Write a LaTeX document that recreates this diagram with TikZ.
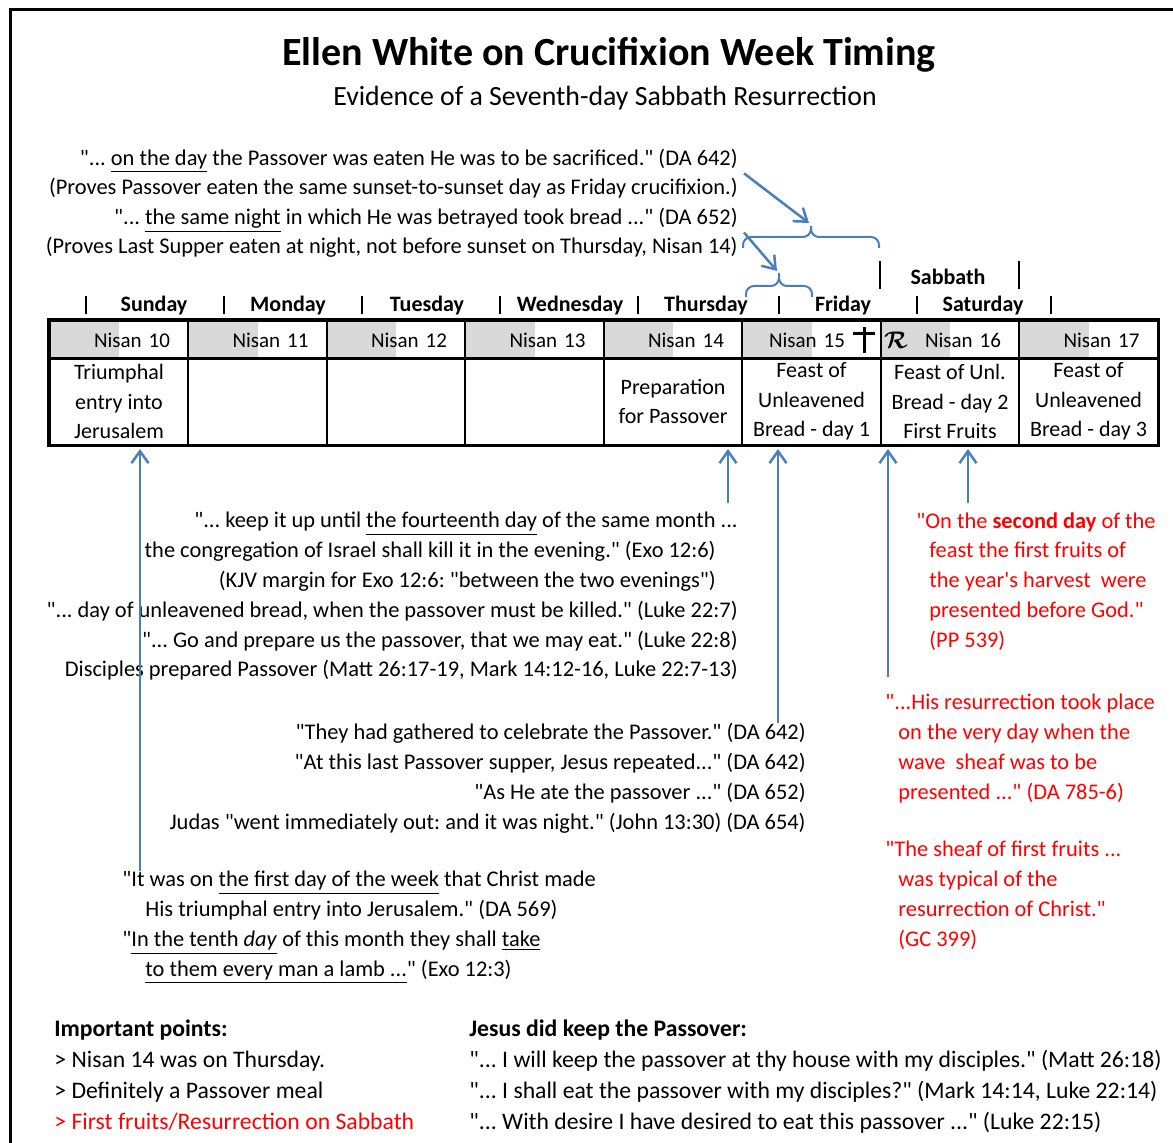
\documentclass[tikz,border=0pt]{standalone}
\usepackage{bm}
\usepackage{fontspec}
\setmainfont{Carlito}[Ligatures=TeXOff]
\frenchspacing
\usetikzlibrary{arrows.meta}

\definecolor{linkblue}{HTML}{4A7EBB}
\definecolor{ewred}{HTML}{FF0000}
\definecolor{evening}{HTML}{D9D9D9}

\tikzset{
  txt/.style={inner sep=0pt,font=\fontsize{11.2}{14.9}\selectfont},
  dayname/.style={txt,font=\fontsize{11}{15}\selectfont\bfseries},
  redtxt/.style={txt,text=ewred,align=left,anchor=north west},
  link/.style={draw=linkblue,line width=1.25pt,-{Straight Barb[length=6pt,width=8.5pt]}},
  bracket/.style={draw=linkblue,line width=1pt,rounded corners=4pt},
  bar/.style={line width=1pt},
  nisan/.style={draw,line width=1pt,minimum width=69.25pt,minimum height=19pt,inner sep=0pt,
    text width=51pt,align=right,font=\fontsize{10.5}{15}\selectfont,
    path picture={\fill[evening] (path picture bounding box.north west) rectangle (path picture bounding box.south);}},
  feast/.style={draw,line width=1pt,minimum width=69.25pt,minimum height=43.5pt,inner sep=0pt,
    align=center,font=\fontsize{11}{14.75}\selectfont}
}

\begin{document}
\begin{tikzpicture}[x=0.5pt,y=-0.5pt]
\useasboundingbox (0,0) rectangle (1173,1143);
\draw[line width=1.5pt] (10,1143) -- (10,10) -- (1173,10);

\node[font=\fontsize{20}{24}\selectfont\bfseries] (title) at (609,55) {Ellen White on Crucifixion Week Timing};
\node[font=\fontsize{13.9}{16}\selectfont] (subtitle) at (605,98) {Evidence of a Seventh-day Sabbath Resurrection};

\node[txt,anchor=east] (q1) at (738,161) {"... \underline{on the day} the Passover was eaten He was to be sacrificed." (DA 642)};
\node[txt,anchor=east] (q2) at (738,188) {(Proves Passover eaten the same sunset-to-sunset day as Friday crucifixion.)};
\node[txt,anchor=east] (q3) at (738,220) {"... \underline{the same night} in which He was betrayed took bread ..." (DA 652)};
\node[txt,anchor=east] (q4) at (738,247) {(Proves Last Supper eaten at night, not before sunset on Thursday, Nisan 14)};

\draw[bracket] (743,248) |- (811,237) -- (811,226) (811,226) -- (811,237) -| (879,248);
\draw[bracket] (746,297) |- (779,286) -- (779,273) (779,273) -- (779,286) -| (812,297);
\coordinate (tip1) at (809,223);
\coordinate (tip2) at (777,271);
\draw[link] ([xshift=3pt]q1.south east) -- (tip1);
\draw[link] ([xshift=3pt]q3.south east) -- (tip2);

\node[dayname] (sabbath) at (948,277) {Sabbath};
\draw[bar] (880,261) -- (880,289) (1019,261) -- (1019,289);
\path node[dayname] (sun) at (154,306) {Sunday}
      node[dayname] (mon) at (288,306) {Monday}
      node[dayname] (tue) at (427,306) {Tuesday}
      node[dayname] (wed) at (570,306) {Wednesday}
      node[dayname] (thu) at (706,306) {Thursday}
      node[dayname] (fri) at (843,306) {Friday}
      node[dayname] (sat) at (983,306) {Saturday};
\draw[bar] (86,296) -- (86,314) (224,296) -- (224,314) (362,296) -- (362,314) (500,296) -- (500,314)
  (638,296) -- (638,314) (779,296) -- (779,314) (917,296) -- (917,314) (1051,296) -- (1051,314);

\node[nisan] (h10) at (119,340) {Nisan 10};
\node[nisan] (h11) at (257.5,340) {Nisan 11};
\node[nisan] (h12) at (396,340) {Nisan 12};
\node[nisan] (h13) at (534.5,340) {Nisan 13};
\node[nisan] (h14) at (673,340) {Nisan 14};
\node[nisan] (h15) at (811.5,340) {Nisan 15\rule{8.75pt}{0pt}};
\node[nisan] (h16) at (950,340) {Nisan 16};
\node[nisan] (h17) at (1088.5,340) {Nisan 17};
\node[feast] (b10) at (119,401.5) {Triumphal\\entry into\\Jerusalem};
\node[feast] (b11) at (257.5,401.5) {};
\node[feast] (b12) at (396,401.5) {};
\node[feast] (b13) at (534.5,401.5) {};
\node[feast] (b14) at (673,401.5) {Preparation\\for Passover};
\node[feast] (b15) at (811.5,401.5) {Feast of\\Unleavened\\Bread - day 1};
\node[feast] (b16) at (950,401.5) {Feast of Unl.\\Bread - day 2\\First Fruits};
\node[feast] (b17) at (1088.5,401.5) {Feast of\\Unleavened\\Bread - day 3};
\draw[line width=1.5pt] (h10.north west) rectangle (b17.south east);
\draw[line width=1.5pt] (864,327) -- (864,353) (853,334) -- (875,334);
\node[txt,font=\fontsize{12}{14}\selectfont] (res) at (896,340) {$\bm{\mathcal{R}}$};

\node[txt,anchor=north east,align=right] (keep) at (738,512) {"... keep it up until \underline{the fourteenth day} of the same month ...\\
the congregation of Israel shall kill it in the evening." (Exo 12:6)\rule{11pt}{0pt}\\
(KJV margin for Exo 12:6: "between the two evenings")\rule{11pt}{0pt}\\
"... day of unleavened bread, when the passover must be killed." (Luke 22:7)\\
"... Go and prepare us the passover, that we may eat." (Luke 22:8)\\
Disciples prepared Passover (Matt 26:17-19, Mark 14:12-16, Luke 22:7-13)};
\node[txt,anchor=north east,align=right] (supper) at (806,723) {"They had gathered to celebrate the Passover." (DA 642)\\
"At this last Passover supper, Jesus repeated..." (DA 642)\\
"As He ate the passover ..." (DA 652)\\
Judas "went immediately out: and it was night." (John 13:30) (DA 654)};
\node[txt,anchor=north west,align=left] (week) at (122,871) {"It was on \underline{the first day of the week} that Christ made\\
\hspace*{11.5pt}His triumphal entry into Jerusalem." (DA 569)\\
"\underline{In the tenth \textit{day}} of this month they shall \underline{take}\\
\hspace*{11.5pt}\underline{to them every man a lamb ...}" (Exo 12:3)};

\node[redtxt] (second) at (916,512) {"On the \textbf{second day} of the\\
\hspace*{6.5pt}feast the first fruits of\\
\hspace*{6.5pt}the year's harvest\ \ were\\
\hspace*{6.5pt}presented before God."\\
\hspace*{6.5pt}(PP 539)};
\node[redtxt] (wave) at (885,694) {"...His resurrection took place\\
\hspace*{6.5pt}on the very day when the\\
\hspace*{6.5pt}wave\ \ sheaf was to be\\
\hspace*{6.5pt}presented ..." (DA 785-6)};
\node[redtxt] (sheaf) at (885,841) {"The sheaf of first fruits ...\\
\hspace*{6.5pt}was typical of the\\
\hspace*{6.5pt}resurrection of Christ."\\
\hspace*{6.5pt}(GC 399)};

\coordinate (atSun) at (140,449);
\coordinate (atThu) at (728,449);
\coordinate (atFri) at (778,449);
\coordinate (atSab) at (888,449);
\coordinate (atFruits) at (968,449);
\draw[link] (atSun |- week.north) -- (atSun);
\draw[link,shorten <=4.5pt] (atThu |- keep.north) -- (atThu);
\draw[link] (atFri |- supper.north) -- (atFri);
\draw[link,shorten <=8.5pt] (atSab |- wave.north) -- (atSab);
\draw[link,shorten <=4.5pt] (atFruits |- second.north) -- (atFruits);

\node[txt,anchor=north west,align=left,font=\fontsize{11.85}{15.5}\selectfont] (points) at (54,1019) {\textbf{Important points:}\\
> Nisan 14 was on Thursday.\\
> Definitely a Passover meal\\
\textcolor{ewred}{> First fruits/Resurrection on Sabbath}};
\node[txt,anchor=north west,align=left,font=\fontsize{11.85}{15.5}\selectfont] (kept) at (469,1019) {\textbf{Jesus did keep the Passover:}\\
"... I will keep the passover at thy house with my disciples." (Matt 26:18)\\
"... I shall eat the passover with my disciples?" (Mark 14:14, Luke 22:14)\\
"... With desire I have desired to eat this passover ..." (Luke 22:15)};
\end{tikzpicture}
\end{document}
